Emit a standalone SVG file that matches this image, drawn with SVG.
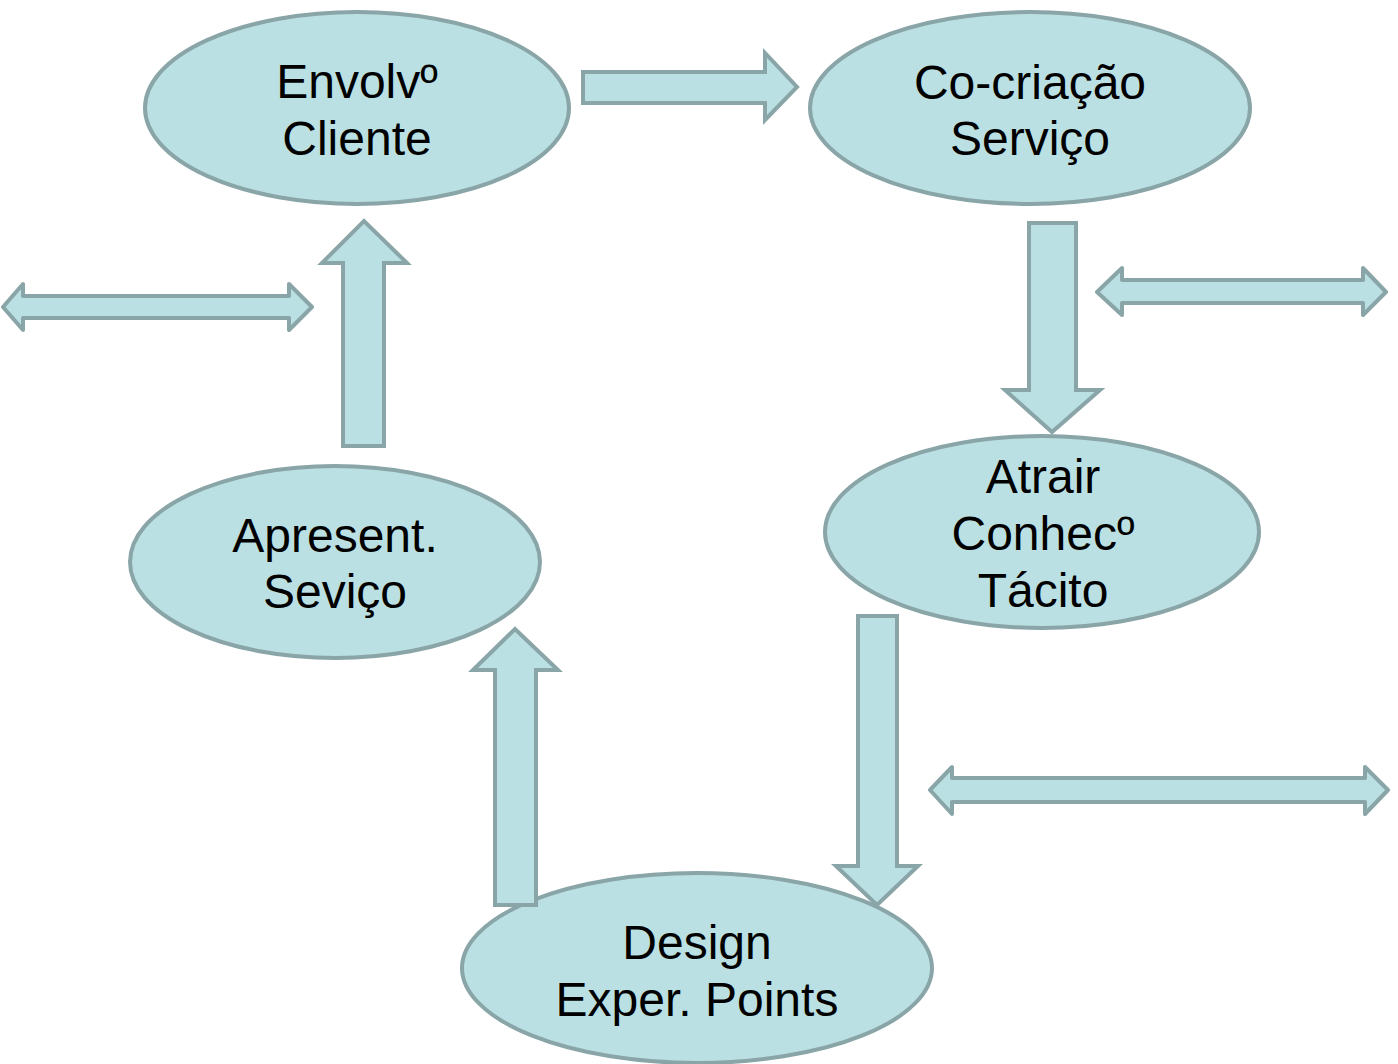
<svg xmlns="http://www.w3.org/2000/svg" width="1398" height="1064" viewBox="0 0 1398 1064">
<style>
.n{fill:#BBE0E3;stroke:#89A5A7;stroke-width:4}
.a{fill:#BBE0E3;stroke:#89A5A7;stroke-width:4;stroke-linejoin:miter}
.d{fill:#BBE0E3;stroke:#89A5A7;stroke-width:4;stroke-linejoin:round}
text{font-family:"Liberation Sans",Arial,sans-serif;font-size:48px;fill:#000;text-anchor:middle}
</style>
<rect width="1398" height="1064" fill="#fff"/>
<g id="n1"><ellipse class="n" cx="357" cy="108" rx="212" ry="96"/><text x="357" y="98">Envolvº</text><text x="357" y="155">Cliente</text></g>
<g id="n2"><ellipse class="n" cx="1030" cy="108" rx="220" ry="96"/><text x="1030" y="99">Co-criação</text><text x="1030" y="155">Serviço</text></g>
<g id="n3"><ellipse class="n" cx="1042" cy="532" rx="217" ry="96"/><text x="1043" y="493">Atrair</text><text x="1043" y="550">Conhecº</text><text x="1043" y="607">Tácito</text></g>
<g id="n4"><ellipse class="n" cx="335" cy="562" rx="205" ry="96"/><text x="335" y="552">Apresent.</text><text x="335" y="608">Seviço</text></g>
<g id="n5"><ellipse class="n" cx="697" cy="968" rx="235" ry="95"/><text x="697" y="959">Design</text><text x="697" y="1016">Exper. Points</text></g>
<g id="connectors">
<polygon class="a" points="583,72 765,72 765,53 797,87 765,120 765,103 583,103"/>
<polygon class="a" points="1029,223 1076,223 1076,390 1100,390 1052,432 1005,390 1029,390"/>
<polygon class="a" points="858,616 897,616 897,866 918,866 877,905 836,866 858,866"/>
<polygon class="a" points="343,446 384,446 384,263 407,263 364,221 322,263 343,263"/>
<polygon class="a" points="495,905 536,905 536,670 558,670 515,629 473,670 495,670"/>
<polygon class="d" points="3,307 23,284 23,296 289,296 289,284 312,307 289,330 289,318 23,318 23,330"/>
<polygon class="d" points="1097,292 1122,268 1122,280 1363,280 1363,268 1386,292 1363,315 1363,303 1122,303 1122,315"/>
<polygon class="d" points="930,790 952,767 952,778 1365,778 1365,767 1388,790 1365,814 1365,802 952,802 952,814"/>
</g>
</svg>
